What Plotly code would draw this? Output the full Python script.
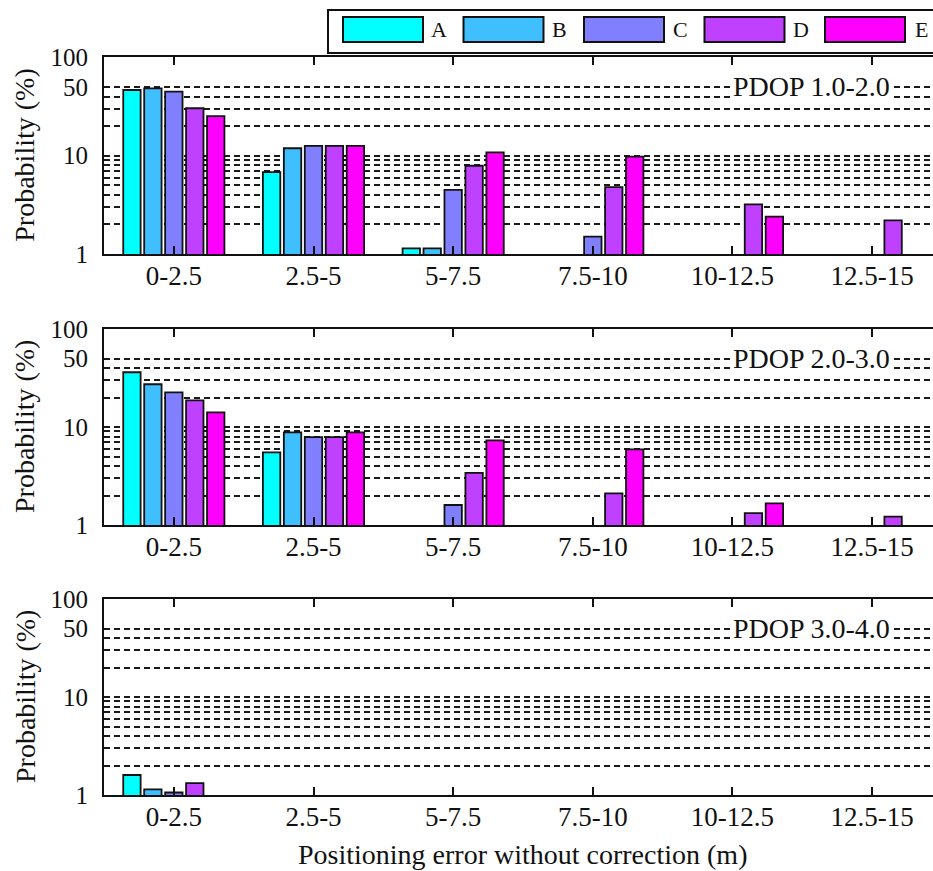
import math
import plotly.graph_objects as go

# ---- data -------------------------------------------------------------
categories = ["0-2.5", "2.5-5", "5-7.5", "7.5-10", "10-12.5", "12.5-15"]
series_names = ["A", "B", "C", "D", "E"]
series_colors = ["#00FFFF", "#40BFFF", "#8080FF", "#BF40FF", "#FF00FF"]
panel_titles = ["PDOP 1.0-2.0", "PDOP 2.0-3.0", "PDOP 3.0-4.0"]

# PDOP 1.0-2.0 (probability, %)
p1_a = [46.6, 6.8, 1.14, None, None, None]
p1_b = [48.5, 11.9, 1.14, None, None, None]
p1_c = [44.8, 12.6, 4.5, 1.5, None, None]
p1_d = [30.4, 12.6, 7.9, 4.8, 3.2, 2.2]
p1_e = [25.3, 12.6, 10.8, 9.8, 2.4, None]

# PDOP 2.0-3.0
p2_a = [36.2, 5.5, None, None, None, None]
p2_b = [27.3, 8.8, None, None, None, None]
p2_c = [22.6, 7.9, 1.6, None, None, None]
p2_d = [18.7, 7.9, 3.4, 2.1, 1.32, 1.22]
p2_e = [14.1, 8.8, 7.3, 5.9, 1.66, None]

# PDOP 3.0-4.0
p3_a = [1.6, None, None, None, None, None]
p3_b = [1.14, None, None, None, None, None]
p3_c = [1.06, None, None, None, None, None]
p3_d = [1.32, None, None, None, None, None]
p3_e = [None, None, None, None, None, None]

y_tick_vals = [1, 2, 3, 4, 5, 6, 7, 8, 9, 10, 20, 30, 40, 50, 100]
y_tick_text = ["1", "", "", "", "", "", "", "", "", "10", "", "", "", "50", "100"]

panels = [
    [p1_a, p1_b, p1_c, p1_d, p1_e],
    [p2_a, p2_b, p2_c, p2_d, p2_e],
    [p3_a, p3_b, p3_c, p3_d, p3_e],
]

# ---- geometry helpers ------------------------------------------------
W, H = 933, 871
ML, MR, MT, MB = 104, 0, 57, 76
PW = W - ML - MR
PH = H - MT - MB


def px_x(px):
    return (px - ML) / PW


def px_y(py):
    return (H - MB - py) / PH


panel_px = [(57.4, 254.0), (329.0, 525.0), (599.0, 795.0)]
FONT = "Liberation Serif"
INK = "#111111"

fig = go.Figure()

for i, series in enumerate(panels):
    k = "" if i == 0 else str(i + 1)
    for name, color, vals in zip(series_names, series_colors, series):
        fig.add_trace(go.Bar(
            x=categories, y=vals, name=name,
            xaxis="x" + k, yaxis="y" + k,
            marker=dict(color=color, line=dict(color=INK, width=1.8)),
            showlegend=False,
        ))

layout = dict(
    width=W, height=H,
    margin=dict(l=ML, r=MR, t=MT, b=MB, pad=0),
    paper_bgcolor="white", plot_bgcolor="white",
    barmode="group", bargap=0.25, bargroupgap=0.17,
    font=dict(family=FONT, color=INK),
    showlegend=False,
)

annotations = []
shapes = []
for i, (top, bot) in enumerate(panel_px):
    k = "" if i == 0 else str(i + 1)
    dom = [max(0.0, px_y(bot)), min(1.0, px_y(top))]
    layout["xaxis" + k] = dict(
        domain=[0, 1], anchor="y" + k, type="category",
        range=[-0.5, 5.5 - 9 / 139.8],
        tickvals=categories, ticktext=categories,
        ticks="inside", ticklen=8, tickwidth=1.5, tickcolor=INK,
        showline=True, linecolor=INK, linewidth=2, mirror="ticks",
        showgrid=False, zeroline=False,
        tickfont=dict(family=FONT, size=27, color=INK),
        ticklabelstandoff=-3,
    )
    layout["yaxis" + k] = dict(
        domain=dom, anchor="x" + k, type="log", range=[0, 2],
        tickvals=y_tick_vals, ticktext=y_tick_text,
        ticks="", showline=True, linecolor=INK, linewidth=2, mirror=False,
        showgrid=True, gridcolor="#1a1a1a", gridwidth=1.7, griddash="6px,4px",
        zeroline=False,
        tickfont=dict(family=FONT, size=25, color=INK),
        ticklabelstandoff=9,
    )
    annotations.append(dict(
        text=panel_titles[i], xref="paper", yref="y" + k,
        x=px_x(811), y=math.log10(50), xanchor="center", yanchor="middle",
        showarrow=False, bgcolor="white", borderpad=1,
        font=dict(family=FONT, size=28, color=INK),
    ))
    annotations.append(dict(
        text="Probability (%)", xref="paper", yref="paper",
        x=px_x(25), y=px_y((top + bot) / 2), xanchor="center", yanchor="middle",
        textangle=-90, showarrow=False,
        font=dict(family=FONT, size=28, color=INK),
    ))

annotations.append(dict(
    text="Positioning error without correction (m)", xref="paper", yref="paper",
    x=px_x(522), y=px_y(854), xanchor="center", yanchor="middle",
    showarrow=False, font=dict(family=FONT, size=28, color=INK),
))

# legend frame and entries
shapes.append(dict(
    type="rect", xref="paper", yref="paper",
    x0=px_x(328), x1=px_x(980), y0=px_y(53), y1=px_y(10),
    line=dict(color=INK, width=2), fillcolor="white", layer="above",
))
for j, (name, color) in enumerate(zip(series_names, series_colors)):
    x0 = 343 + j * 120.5
    shapes.append(dict(
        type="rect", xref="paper", yref="paper",
        x0=px_x(x0), x1=px_x(x0 + 80), y0=px_y(42), y1=px_y(17),
        line=dict(color=INK, width=2), fillcolor=color, layer="above",
    ))
    annotations.append(dict(
        text=name, xref="paper", yref="paper",
        x=px_x(x0 + 96), y=px_y(30), xanchor="center", yanchor="middle",
        showarrow=False, font=dict(family=FONT, size=22, color=INK),
    ))

layout["annotations"] = annotations
layout["shapes"] = shapes
fig.update_layout(**layout)

fig.write_html("out.html")
